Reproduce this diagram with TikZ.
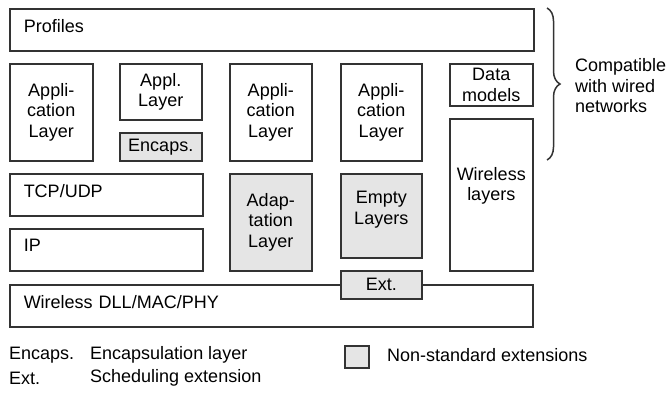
\documentclass[tikz,border=0pt]{standalone}
\usepackage{fontspec}
\setmainfont{Liberation Sans}
\usetikzlibrary{decorations.pathreplacing}

\tikzset{
  layer/.style={draw=black!80, line width=1.5pt, anchor=north west, inner sep=0pt, align=center},
  nonstd/.style={layer, fill=black!10},
  leftlayer/.style={layer, align=left, inner xsep=14pt, text depth=8pt},
  legend/.style={anchor=west, inner sep=0pt},
}

\begin{document}
\begin{tikzpicture}[x=1pt, y=-1pt, every node/.style={font=\fontsize{18}{20.5}\selectfont}]
      \useasboundingbox (0,0) rectangle (668,392);
      % Profiles on top
      \node[leftlayer, minimum width=524pt, minimum height=42pt, text width=496pt] (profiles) at (9,8) {Profiles};
      % application layers
      \node[layer, minimum width=83pt, minimum height=97pt] (app1) at (9,63) {Appli-\\cation\\Layer};
      \node[layer, minimum width=82pt, minimum height=56pt] (appl) at (119,63) {Appl.\\Layer};
      \node[nonstd, minimum width=82pt, minimum height=28pt] (encaps) at (119,132) {Encaps.};
      \node[layer, minimum width=82pt, minimum height=97pt] (app3) at (229,63) {Appli-\\cation\\Layer};
      \node[layer, minimum width=81pt, minimum height=97pt] (app4) at (340,63) {Appli-\\cation\\Layer};
      \node[layer, minimum width=83pt, minimum height=42pt] (datamodels) at (449,63) {Data\\models};
      \node[layer, minimum width=83pt, minimum height=152pt, text depth=22pt] (wireless) at (449,118) {Wireless\\layers};
      % transport and network
      \node[leftlayer, minimum width=193pt, minimum height=42pt, text width=165pt] (tcp) at (9,173) {TCP/UDP};
      \node[leftlayer, minimum width=193pt, minimum height=42pt, text width=165pt] (ip) at (9,228) {IP};
      \node[nonstd, minimum width=82pt, minimum height=97pt] (adapt) at (229,173) {Adap-\\tation\\Layer};
      \node[nonstd, minimum width=81pt, minimum height=84pt, text depth=16pt] (empty) at (340,173) {Empty\\Layers};
      % wireless bottom layer with extension on its edge
      \node[leftlayer, minimum width=523pt, minimum height=42pt, text width=495pt] (dll) at (9,284) {Wireless DLL/MAC/PHY};
      \node[nonstd, minimum width=81pt, minimum height=28pt] (ext) at (340,270) {Ext.};
      % brace and remark
      \coordinate (bracetop) at (547,8);
      \coordinate (bracebot) at (547,160);
      \draw[black!80, line width=1.5pt, decorate, decoration={brace, amplitude=13pt}] (bracetop) -- (bracebot);
      \node[legend, align=left] (compat) at (575,86) {Compatible\\with wired\\networks};
      % legend
      \node[legend] (encapskey) at (9,355) {Encaps.};
      \node[legend] (encapstext) at (90,355) {Encapsulation layer};
      \node[legend] (extkey) at (9,378) {Ext.};
      \node[legend] (exttext) at (90,378) {Scheduling extension};
      \node[nonstd, minimum width=24pt, minimum height=22pt] (greykey) at (344,345) {};
      \node[legend] (greytext) at (387,355) {Non-standard extensions};
\end{tikzpicture}
\end{document}
